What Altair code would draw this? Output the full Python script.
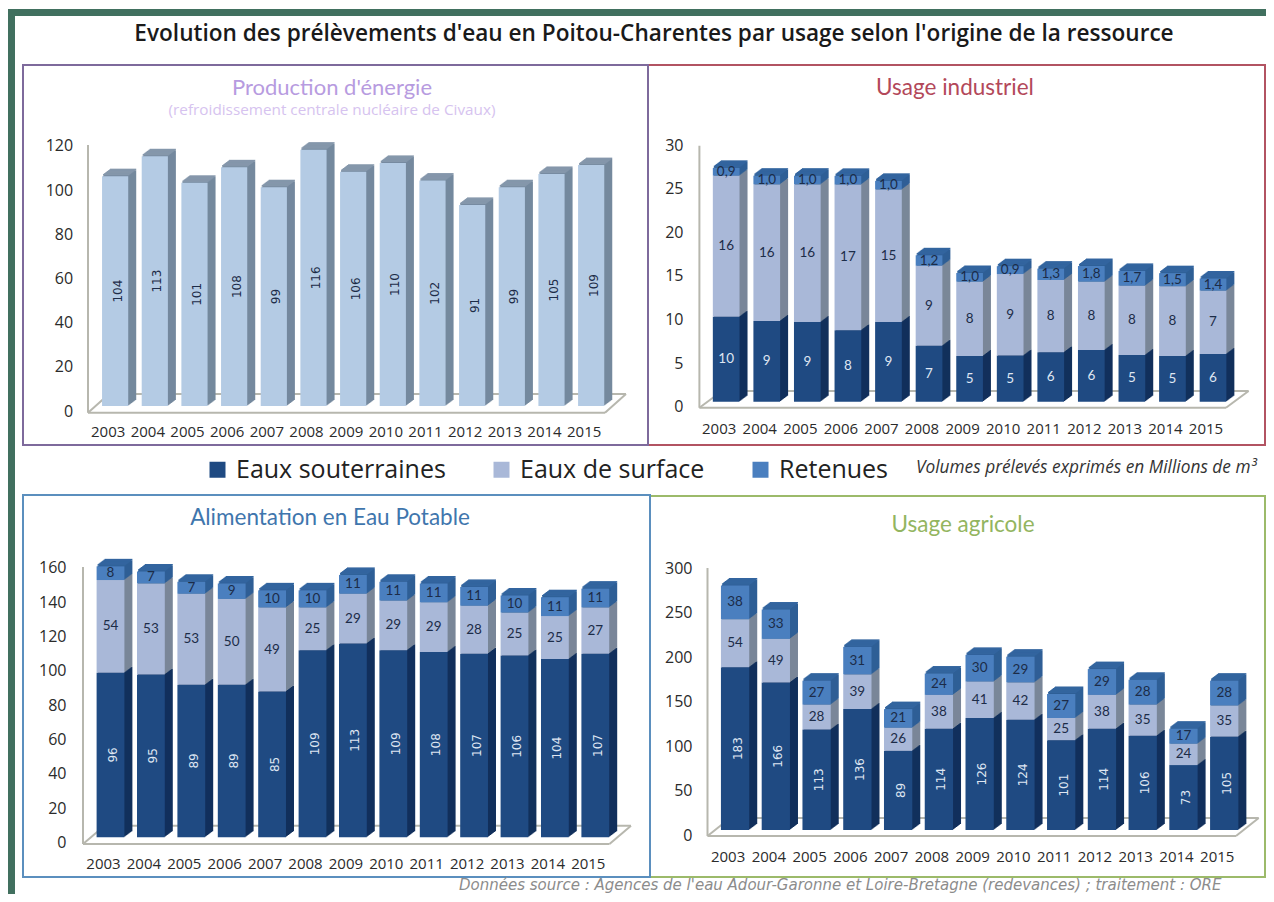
import altair as alt
import pandas as pd

YEARS = [str(y) for y in range(2003, 2016)]
SERIES = ["Eaux souterraines", "Eaux de surface", "Retenues"]
FRONT = ["#1f4a82", "#a9b8d8", "#4a7fbf"]
SIDE = ["#12305c", "#7a8799", "#2f5f96"]

ENERGIE = [104, 113, 101, 108, 99, 116, 106, 110, 102, 91, 99, 105, 109]

IND_SOUT = [9.75, 9.25, 9.13, 8.2, 9.13, 6.42, 5.24, 5.31, 5.66, 5.92, 5.35, 5.24, 5.47]
IND_SURF = [16.17, 15.67, 15.79, 16.7, 15.2, 9.17, 8.52, 9.33, 8.3, 7.84, 7.95, 8.0, 7.26]
IND_RET = [0.9, 1.0, 1.0, 1.0, 1.0, 1.2, 1.0, 0.9, 1.3, 1.8, 1.7, 1.5, 1.4]
IND_SOUT_L = ["10", "9", "9", "8", "9", "7", "5", "5", "6", "6", "5", "5", "6"]
IND_SURF_L = ["16", "16", "16", "17", "15", "9", "8", "9", "8", "8", "8", "8", "7"]
IND_RET_L = ["0,9", "1,0", "1,0", "1,0", "1,0", "1,2", "1,0", "0,9", "1,3", "1,8", "1,7", "1,5", "1,4"]

AEP_SOUT = [96, 95, 89, 89, 85, 109, 113, 109, 108, 107, 106, 104, 107]
AEP_SURF = [54, 53, 53, 50, 49, 25, 29, 29, 29, 28, 25, 25, 27]
AEP_RET = [8, 7, 7, 9, 10, 10, 11, 11, 11, 11, 10, 11, 11]

AGR_SOUT = [183, 166, 113, 136, 89, 114, 126, 124, 101, 114, 106, 73, 105]
AGR_SURF = [54, 49, 28, 39, 26, 38, 41, 42, 25, 38, 35, 24, 35]
AGR_RET = [38, 33, 27, 31, 21, 24, 30, 29, 27, 29, 28, 17, 28]

FONT = "Lato"
WIDE = "Open Sans"
NUM = "DejaVu Sans"
TXT = "#2b2b2b"
W, H = 1258, 886
DEPTH = 8
DY = 0.75


def table(rows):
    recs = []
    for yi, year in enumerate(YEARS):
        base = 0.0
        for si, (name, vals, labs) in enumerate(rows):
            v = vals[yi]
            recs.append(dict(year=year, series=name, y0=base, y1=base + v,
                             mid=base + v / 2, label=labs[yi], order=si,
                             top=si == len(rows) - 1))
            base += v
    return pd.DataFrame(recs)


def strs(values):
    return [str(v) for v in values]


def one():
    return alt.Chart(pd.DataFrame({"k": [0]}))


def scales(xr, pad, ymax, base, ypx):
    x_scale = alt.Scale(domain=YEARS, range=[xr[0] - 8, xr[1] - 8], paddingInner=pad, paddingOuter=pad / 2)
    y_scale = alt.Scale(domain=[0, ymax], range=[base - 8, ypx - 8], nice=False, zero=False)
    return x_scale, y_scale


def panel(df, xr, pad, ymax, base, ypx, top_color, side=None, front=None,
          rot_dark=True, dark_color="#dfe6f2"):
    x_scale, y_scale = scales(xr, pad, ymax, base, ypx)
    X0 = alt.X("year:N", scale=x_scale, axis=None)
    Y0 = alt.Y("y0:Q", scale=y_scale, axis=None)
    Y2 = alt.Y2("y1:Q")
    layers = []
    src = alt.Chart(df)
    side_enc = (alt.value(side) if side else
                alt.Fill("series:N", scale=alt.Scale(domain=SERIES, range=SIDE), legend=None))
    for i in range(DEPTH, 0, -1):
        off = -i * DY
        layers.append(
            src.mark_bar(xOffset=i, yOffset=off, y2Offset=off, strokeWidth=0)
            .encode(x=X0, y=Y0, y2=Y2, fill=side_enc, order=alt.Order("order:Q"))
        )
        layers.append(
            src.transform_filter("datum.top").mark_bar(
                xOffset=i, yOffset=off - 1.5, y2Offset=off, color=top_color, strokeWidth=0)
            .encode(x=X0, y=alt.Y("y1:Q", scale=y_scale, axis=None), y2=alt.Y2("y1:Q"))
        )
    main_color = (alt.value(front) if front else
                  alt.Color("series:N", scale=alt.Scale(domain=SERIES, range=FRONT), legend=None))
    layers.append(src.mark_bar(strokeWidth=0).encode(x=X0, y=Y0, y2=Y2, color=main_color))
    txt_y = alt.Y("mid:Q", scale=y_scale, axis=None)
    if front:
        layers.append(src.mark_text(angle=270, font=NUM, fontSize=12, color="#1c2c48", xOffset=2.5)
                      .encode(x=X0, y=txt_y, text="label:N"))
    else:
        layers.append(src.transform_filter(alt.datum.order > 0)
                      .mark_text(font=FONT, fontSize=13.5, color="#1c2c48")
                      .encode(x=X0, y=txt_y, text="label:N"))
        layers.append(src.transform_filter(alt.datum.order == 0)
                      .mark_text(font=NUM if rot_dark else FONT, fontSize=12 if rot_dark else 13.5,
                                 color=dark_color, angle=270 if rot_dark else 0,
                                 xOffset=2.5 if rot_dark else 0)
                      .encode(x=X0, y=txt_y, text="label:N"))
    return alt.layer(*layers)


def axes(df, xr, pad, ymax, base, ypx, xpx, y_right, ticks):
    """Invisible bars that only carry the panel's two axes."""
    x_scale, y_scale = scales(xr, pad, ymax, base, ypx)
    return alt.Chart(df).mark_bar(opacity=0).encode(
        x=alt.X("year:N", scale=x_scale, title=None,
                axis=alt.Axis(labelAngle=0, domain=False, ticks=False, grid=False,
                              orient="bottom", offset=-(H - (xpx - 8)), labelPadding=0,
                              labelOffset=-7, labelFont=WIDE, labelFontSize=15,
                              labelColor=TXT, labelBaseline="middle")),
        y=alt.Y("y1:Q", scale=y_scale, title=None,
                axis=alt.Axis(values=ticks, domain=False, ticks=False, grid=False,
                              orient="left", offset=-(y_right - 8), labelPadding=0,
                              labelOffset=5, labelFont=WIDE, labelFontSize=16,
                              labelColor=TXT)),
    )


def line(x1, y1, x2, y2, color="#b7b7ae", width=2):
    return one().mark_rule(color=color, strokeWidth=width).encode(
        x=alt.value(x1 - 8), y=alt.value(y1 - 8), x2=alt.value(x2 - 8), y2=alt.value(y2 - 8))


def floor(ax, ytop, yfront, xfront, yback, xback):
    dx = xback - xfront
    return [
        line(ax, ytop, ax, yfront),
        line(ax, yfront, xfront, yfront),
        line(ax + dx, yback, xback, yback),
        line(ax, yfront, ax + dx, yback),
        line(xfront, yfront, xback, yback),
    ]


def box(x1, y1, x2, y2, color):
    return one().mark_rect(fill="transparent", stroke=color, strokeWidth=2).encode(
        x=alt.value(x1 - 8), y=alt.value(y1 - 8), x2=alt.value(x2 - 8), y2=alt.value(y2 - 8))


def label(text, x, y, size, color, align="center", style="normal", weight=400, font=FONT):
    return one().mark_text(text=text, fontSize=size, color=color, align=align, baseline="middle",
                           fontStyle=style, fontWeight=weight, font=font).encode(
        x=alt.value(x - 8), y=alt.value(y - 8))


energie = table([("Prélèvements", ENERGIE, strs(ENERGIE))])
industrie = table([(SERIES[0], IND_SOUT, IND_SOUT_L), (SERIES[1], IND_SURF, IND_SURF_L),
                   (SERIES[2], IND_RET, IND_RET_L)])
aep = table([(SERIES[0], AEP_SOUT, strs(AEP_SOUT)), (SERIES[1], AEP_SURF, strs(AEP_SURF)),
             (SERIES[2], AEP_RET, strs(AEP_RET))])
agri = table([(SERIES[0], AGR_SOUT, strs(AGR_SOUT)), (SERIES[1], AGR_SURF, strs(AGR_SURF)),
              (SERIES[2], AGR_RET, strs(AGR_RET))])

back = [
    one().mark_rect(color="#41705f").encode(x=alt.value(0), x2=alt.value(W), y=alt.value(1), y2=alt.value(8)),
    one().mark_rect(color="#41705f").encode(x=alt.value(0), x2=alt.value(7), y=alt.value(1), y2=alt.value(H)),
    box(648, 65, 1265, 445, "#b25362"),
    box(23, 65, 648, 445, "#7e6a9c"),
    box(650, 496, 1265, 877, "#9cba6a"),
    box(23, 495, 650, 877, "#5b8fbe"),
]
back += floor(88, 145, 412.7, 605, 394, 626)
back += floor(699.4, 145.7, 407.7, 1226, 391, 1248.6)
back += floor(83, 567, 844, 609.5, 825.7, 631)
back += floor(707.5, 568, 836, 1236, 818, 1258.7)

G1 = ((95.3, 611), 0.34, 120, 406, 406 - 120 * 2.21)
G2 = ((705.9, 1233.3), 0.342, 30, 401.7, 401.7 - 30 * 8.72)
G3 = ((90.3, 615.5), 0.312, 160, 837.3, 837.3 - 160 * 1.715)
G4 = ((714.7, 1244.6), 0.306, 300, 830, 830 - 300 * 0.889)

p1 = panel(energie, *G1, "#8597ab", side="#75899e", front="#b4cbe4")
p2 = panel(industrie, *G2, "#33659f", rot_dark=False)
p3 = panel(aep, *G3, "#33659f")
p4 = panel(agri, *G4, "#33659f")

a1 = axes(energie, *G1, 431, 72.6, [0, 20, 40, 60, 80, 100, 120])
a2 = axes(industrie, *G2, 428, 683, [0, 5, 10, 15, 20, 25, 30])
a3 = axes(aep, *G3, 863, 66, [0, 20, 40, 60, 80, 100, 120, 140, 160])
a4 = axes(agri, *G4, 856, 692, [0, 50, 100, 150, 200, 250, 300])

legend_leaf = alt.Chart(pd.DataFrame({"series": SERIES})).mark_square(opacity=0).encode(
    x=alt.value(0), y=alt.value(0),
    color=alt.Color("series:N", scale=alt.Scale(domain=SERIES, range=FRONT),
                    legend=alt.Legend(
                        title=None, orient="none", legendX=197, legendY=449, direction="horizontal",
                        columns=3, symbolType="square", symbolSize=256, symbolStrokeWidth=0,
                        symbolOpacity=1, labelFont=WIDE, labelFontSize=25, labelColor="#222222",
                        labelLimit=400, columnPadding=43, labelOffset=6, padding=0)),
)

texts = [
    label("Evolution des prélèvements d'eau en Poitou-Charentes par usage selon l'origine de la ressource",
          654, 34, 22.6, "#1a1a1a", weight=600, font=WIDE),
    label("Production d'énergie", 332, 88, 22, "#b79be0"),
    label("(refroidissement centrale nucléaire de Civaux)", 332, 110, 15.3, "#d6c3ef", font=WIDE),
    label("Usage industriel", 955, 88, 22.5, "#b3485a"),
    label("Alimentation en Eau Potable", 330, 518, 22.5, "#3f76ad"),
    label("Usage agricole", 963, 525, 22.5, "#93b560"),
    label("Volumes prélevés exprimés en Millions de m³", 916, 468, 17.3, "#333333", align="left",
          style="italic", font=WIDE),
    label("Données source : Agences de l'eau Adour-Garonne et Loire-Bretagne (redevances) ; traitement : ORE",
          459, 885, 15, "#8c8c8c", align="left", style="italic", font=NUM),
]

chart = (
    alt.layer(*back, p1, p2, p3, p4, a1, a2, a3, a4, legend_leaf, *texts)
    .resolve_scale(x="independent", y="independent", color="independent")
    .properties(width=W, height=H, padding=0, autosize=alt.AutoSizeParams(type="none"),
                background="#ffffff")
    .configure_view(stroke=None)
)

chart.save("out.html", embed_options={"renderer": "svg", "actions": False})
